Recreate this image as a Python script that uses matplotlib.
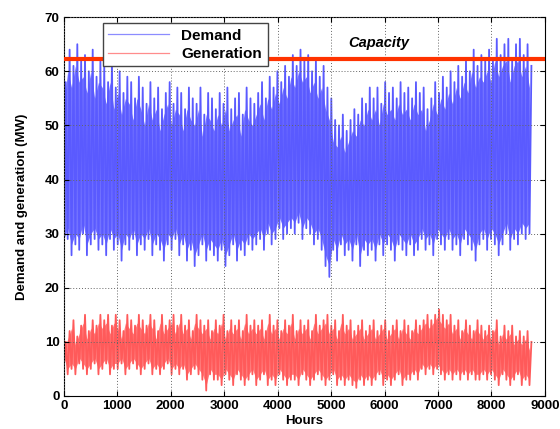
import numpy as np
import matplotlib.pyplot as plt

# hourly profile summarised as 72-hour envelopes (MW)
step_h = 72
demand_peak = [58, 64, 61, 65, 62, 63, 60, 64, 59, 62,
               61, 58, 62, 57, 60, 56, 59, 58, 55, 59,
               57, 54, 58, 55, 57, 53, 56, 58, 54, 57,
               56, 53, 57, 55, 54, 57, 52, 56, 55, 53,
               56, 54, 57, 53, 55, 56, 52, 57, 55, 54,
               56, 58, 55, 59, 57, 60, 58, 61, 59, 63,
               61, 64, 62, 63, 60, 62, 59, 61, 57, 55,
               51, 50, 52, 49, 51, 53, 52, 55, 54, 57,
               55, 57, 54, 58, 56, 57, 55, 58, 56, 57,
               55, 58, 56, 57, 53, 55, 58, 56, 59, 57,
               60, 58, 61, 59, 62, 60, 64, 61, 63, 62,
               64, 62, 66, 63, 65, 66, 62, 65, 66, 63,
               65, 61]
demand_low = [27, 29, 26, 28, 27, 30, 26, 28, 29, 27,
              28, 26, 29, 27, 28, 25, 28, 27, 29, 26,
              28, 27, 29, 26, 28, 27, 25, 28, 27, 29,
              26, 28, 25, 27, 24, 26, 28, 25, 27, 26,
              25, 27, 24, 26, 28, 25, 27, 26, 28, 27,
              28, 29, 27, 30, 28, 29, 31, 29, 30, 31,
              30, 32, 29, 31, 30, 28, 29, 27, 24, 22,
              27, 25, 28, 26, 27, 25, 28, 24, 27, 26,
              27, 25, 28, 26, 28, 27, 25, 28, 27, 26,
              28, 26, 27, 29, 27, 28, 26, 29, 28, 27,
              29, 27, 28, 26, 29, 28, 27, 25, 28, 29,
              27, 29, 28, 26, 28, 30, 27, 29, 28, 30,
              29, 30]
gen_peak = [10, 12, 14, 11, 13, 15, 12, 14, 13, 15,
            14, 15, 13, 15, 14, 12, 15, 14, 13, 15,
            14, 13, 15, 14, 12, 15, 13, 14, 15, 13,
            15, 13, 14, 12, 15, 14, 13, 14, 12, 14,
            13, 15, 12, 14, 13, 14, 12, 15, 13, 14,
            13, 14, 12, 15, 13, 14, 12, 14, 13, 15,
            12, 14, 13, 14, 12, 15, 13, 14, 15, 13,
            14, 12, 15, 13, 14, 12, 13, 14, 12, 13,
            14, 12, 13, 14, 12, 13, 14, 12, 14, 13,
            12, 14, 13, 14, 15, 14, 15, 16, 15, 14,
            15, 13, 14, 12, 14, 13, 12, 14, 13, 12,
            13, 12, 14, 11, 13, 12, 13, 11, 12, 11,
            12, 10]
gen_low = [6, 4, 5, 4, 6, 5, 4, 5, 6, 4,
           5, 6, 4, 5, 5, 6, 4, 5, 6, 5,
           4, 5, 6, 4, 5, 4, 5, 6, 4, 5,
           4, 5, 3, 4, 5, 4, 3, 1, 4, 3,
           3, 2, 4, 3, 2, 4, 3, 2, 3, 4,
           2, 3, 4, 2, 3, 2, 4, 3, 2, 3,
           3, 2, 4, 3, 2, 3, 4, 3, 2, 3,
           4, 2, 3, 2, 3, 2, 1.5, 3, 2, 3,
           2, 3, 4, 2, 3, 2, 3, 4, 2, 3,
           3, 4, 3, 5, 4, 5, 4, 5, 4, 3,
           4, 3, 4, 3, 4, 3, 4, 3, 3, 4,
           3, 4, 3, 2, 4, 3, 2, 3, 4, 2,
           3, 2]
capacity = 62.3


def zigzag(low, high):
    n = len(low)
    t = np.empty(2 * n)
    v = np.empty(2 * n)
    t[0::2] = np.arange(n) * step_h
    t[1::2] = np.arange(n) * step_h + step_h / 2
    v[0::2] = low
    v[1::2] = high
    return t, v


plt.rcParams['font.family'] = ['Liberation Sans', 'DejaVu Sans']
fig = plt.figure(figsize=(5.6, 4.29), dpi=100)
ax = fig.add_axes([0.114, 0.077, 0.859, 0.883])

hours = np.arange(len(demand_low)) * step_h
td, vd = zigzag(demand_low, demand_peak)
tg, vg = zigzag(gen_low, gen_peak)

# light band under the hourly trace, as in the original rendering
ax.fill_between(hours, np.array(demand_low) + 2, np.array(demand_peak) - 4,
                color='#7373ff', lw=0, zorder=1)
ax.fill_between(hours, np.array(gen_low) + 1, np.array(gen_peak) - 1.5,
                color='#ff7b7b', lw=0, zorder=1)
ld, = ax.plot(td, vd, color='#5a5aff', lw=1.3, label='Demand', zorder=2)
lg, = ax.plot(tg, vg, color='#ff5a5a', lw=1.3, label='Generation', zorder=2)
ax.axhline(capacity, color='#ff3300', lw=3, zorder=3)
ax.text(5900, 65.3, 'Capacity', ha='center', va='center',
        fontsize=10.5, fontweight='bold', fontstyle='italic')

ax.set_xlim(0, 9000)
ax.set_ylim(0, 70)
ax.set_xticks(np.arange(0, 9001, 1000))
ax.set_yticks(np.arange(0, 71, 10))
ax.tick_params(direction='in', top=True, right=True, labelsize=9.5, pad=3)
for lab in ax.get_xticklabels() + ax.get_yticklabels():
    lab.set_fontweight('bold')
ax.grid(True, color='#666666', linestyle=(0, (1, 2)), lw=0.7, zorder=4)
ax.set_axisbelow(False)
ax.set_xlabel('Hours', fontsize=9.5, fontweight='bold', labelpad=2)
ax.set_ylabel('Demand and generation (MW)', fontsize=9.5, fontweight='bold', labelpad=12)

leg = ax.legend(loc='upper left', bbox_to_anchor=(0.081, 0.984),
                prop={'weight': 'bold', 'size': 11}, fancybox=False,
                edgecolor='#444444', framealpha=1, borderpad=0.35,
                labelspacing=0.3, handlelength=4.0, borderaxespad=0)
leg.get_lines()[0].set_color('#8c8cff')
leg.get_lines()[1].set_color('#ff8c8c')
leg.get_lines()[0].set_linewidth(0.9)
leg.get_lines()[1].set_linewidth(0.9)
leg.set_zorder(5)

fig.savefig('out.png', dpi=100)
